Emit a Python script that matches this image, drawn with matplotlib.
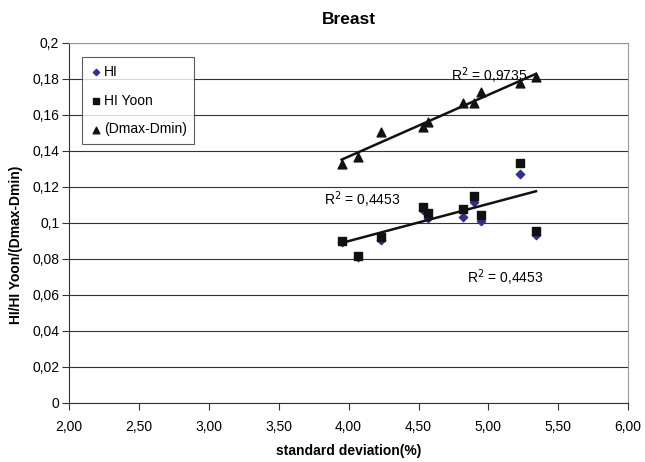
import matplotlib.pyplot as plt
import numpy as np

plt.rcParams['font.family'] = ['Liberation Sans', 'DejaVu Sans']

# standard deviation (%) per case
x = [3.95, 4.066, 4.23, 4.53, 4.57, 4.817, 4.90, 4.948, 5.228, 5.34]
hi = [0.0894, 0.0810, 0.0906, 0.1070, 0.1030, 0.1035, 0.1118, 0.1013, 0.1272, 0.0933]
hi_yoon = [0.0902, 0.0818, 0.0924, 0.1087, 0.1054, 0.1080, 0.1150, 0.1043, 0.1335, 0.0957]
dmax_dmin = [0.1328, 0.1367, 0.1506, 0.1533, 0.1560, 0.1667, 0.1667, 0.1728, 0.1778, 0.1811]

xticks = [2.0, 2.5, 3.0, 3.5, 4.0, 4.5, 5.0, 5.5, 6.0]
yticks = [0, 0.02, 0.04, 0.06, 0.08, 0.1, 0.12, 0.14, 0.16, 0.18, 0.2]
ytick_labels = ['0', '0,02', '0,04', '0,06', '0,08', '0,1', '0,12', '0,14', '0,16', '0,18', '0,2']

fig = plt.figure(figsize=(6.45, 4.62), dpi=100)
ax = fig.add_axes([0.107, 0.128, 0.867, 0.779])

ax.scatter(x, hi, marker='D', s=18, color='#2E3192', label='HI', zorder=3)
ax.scatter(x, hi_yoon, marker='s', s=28, color='#111111', label='HI Yoon', zorder=3)
ax.scatter(x, dmax_dmin, marker='^', s=40, color='#111111', label='(Dmax-Dmin)', zorder=3)

# linear trend lines (the HI and HI Yoon lines lie on top of each other in the original)
xs = np.array([min(x), max(x)])
for ys in (hi_yoon, dmax_dmin):
    k, b = np.polyfit(x, ys, 1)
    ax.plot(xs, k * xs + b, color='#111111', lw=1.8, zorder=4)

ax.text(4.73, 0.1817, 'R$^2$ = 0,9735', fontsize=10, va='center')
ax.text(3.825, 0.1128, 'R$^2$ = 0,4453', fontsize=10, va='center')
ax.text(4.85, 0.0693, 'R$^2$ = 0,4453', fontsize=10, va='center')

ax.set_xlim(2, 6)
ax.set_ylim(0, 0.2)
ax.set_xticks(xticks)
ax.set_xticklabels([('%.2f' % v).replace('.', ',') for v in xticks])
ax.set_yticks(yticks)
ax.set_yticklabels(ytick_labels)
ax.tick_params(labelsize=10, length=5, width=0.8, color='#333333')
ax.tick_params(axis='x', pad=7)
ax.tick_params(axis='y', pad=2)
ax.yaxis.grid(True, color='#333333', lw=0.8)
ax.set_axisbelow(True)
for s in ['top', 'right']:
    ax.spines[s].set_color('#999999')
for s in ['left', 'bottom']:
    ax.spines[s].set_color('#333333')

ax.set_title('Breast', fontsize=12.5, fontweight='bold', pad=14)
ax.set_xlabel('standard deviation(%)', fontsize=10, fontweight='bold')
ax.xaxis.set_label_coords(0.5, -0.113)
ax.set_ylabel('HI/HI Yoon/(Dmax-Dmin)', fontsize=10, fontweight='bold')
ax.yaxis.set_label_coords(-0.082, 0.44)

leg = ax.legend(loc='upper left', bbox_to_anchor=(0.024, 0.96), fontsize=10,
                frameon=True, fancybox=False, edgecolor='#333333',
                handletextpad=0.1, handlelength=0.9, labelspacing=1.05,
                borderpad=0.55, borderaxespad=0, markerscale=0.75)
leg.get_frame().set_linewidth(0.8)

fig.savefig('out.png', dpi=100)
